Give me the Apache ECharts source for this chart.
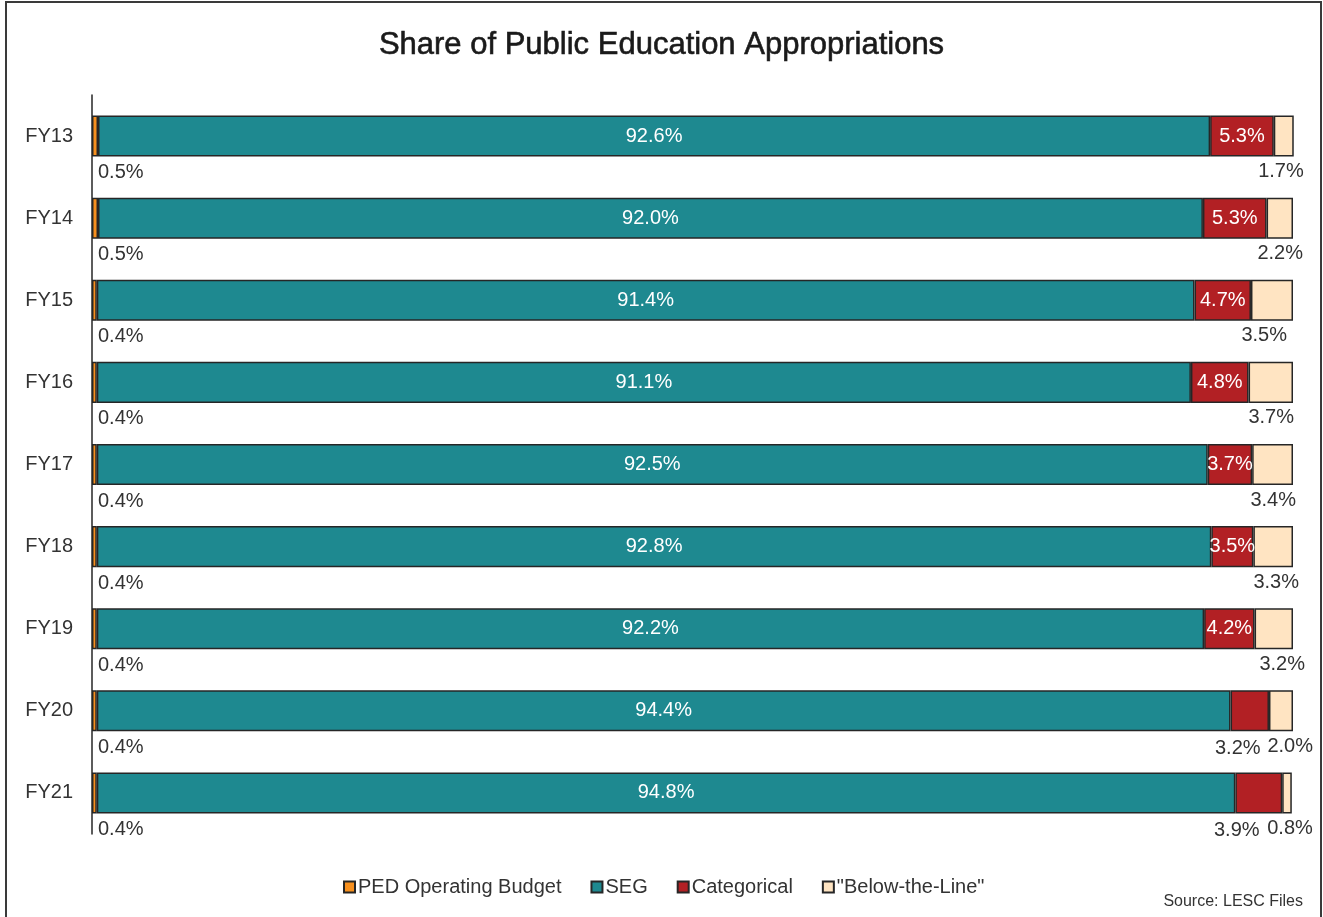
<!DOCTYPE html>
<html>
<head>
<meta charset="utf-8">
<script src="https://cdn.jsdelivr.net/npm/echarts@6/dist/echarts.min.js"></script>
<style>
  html, body { margin: 0; padding: 0; background: #fff; }
  #chart { width: 1323px; height: 917px; }
</style>
</head>
<body>
<div id="chart"></div>
<script>
// ---- data ----
const categories = ['FY13', 'FY14', 'FY15', 'FY16', 'FY17', 'FY18', 'FY19', 'FY20', 'FY21'];
const pedOperating = [0.5, 0.5, 0.4, 0.4, 0.4, 0.4, 0.4, 0.4, 0.4];
const seg = [92.6, 92.0, 91.4, 91.1, 92.5, 92.8, 92.2, 94.4, 94.8];
const categorical = [5.3, 5.3, 4.7, 4.8, 3.7, 3.5, 4.2, 3.2, 3.9];
const belowTheLine = [1.7, 2.2, 3.5, 3.7, 3.4, 3.3, 3.2, 2.0, 0.8];
const seriesNames = ['PED Operating Budget', 'SEG', 'Categorical', '"Below-the-Line"'];

// ---- layout (label nudges, not data) ----
const categoricalOutside = { 7: [-12, 7], 8: [-22, 7] };
const btlDx = [10, 10, -6, 1, 3, 6, 12, 20, 21];

const FONT = '"Liberation Sans", Arial, sans-serif';
const TXT = '#333333';
const BORDER = '#262626';
const colors = ['#F7901E', '#1E8990', '#B22024', '#FFE4C2'];

const fmt = v => v.toFixed(1) + '%';

function baseSeries(i, values) {
  return {
    name: seriesNames[i],
    type: 'bar',
    stack: 'total',
    barWidth: '50%',
    itemStyle: { color: colors[i], borderColor: BORDER, borderWidth: 1.5 },
    emphasis: { disabled: true },
    data: values.slice()
  };
}

const sPed = baseSeries(0, pedOperating);
sPed.label = {
  show: true, position: [6, '100%'], align: 'left', verticalAlign: 'top',
  offset: [0, 6], fontFamily: FONT, fontSize: 20, color: TXT,
  formatter: p => fmt(p.value)
};

const sSeg = baseSeries(1, seg);
sSeg.label = {
  show: true, position: 'inside', fontFamily: FONT, fontSize: 20, color: '#ffffff',
  formatter: p => fmt(p.value)
};

const sCat = baseSeries(2, categorical);
sCat.data = categorical.map((v, i) => {
  if (categoricalOutside[i]) {
    return {
      value: v,
      label: {
        show: true, position: ['50%', '100%'], align: 'center', verticalAlign: 'top',
        offset: categoricalOutside[i], color: TXT
      }
    };
  }
  return { value: v };
});
sCat.label = {
  show: true, position: 'inside', fontFamily: FONT, fontSize: 20, color: '#ffffff',
  formatter: p => fmt(p.value)
};

const sBtl = baseSeries(3, belowTheLine);
sBtl.data = belowTheLine.map((v, i) => ({
  value: v,
  label: { offset: [btlDx[i], 5] }
}));
sBtl.label = {
  show: true, position: ['100%', '100%'], align: 'right', verticalAlign: 'top',
  fontFamily: FONT, fontSize: 20, color: TXT,
  formatter: p => fmt(p.value)
};

const chart = echarts.init(document.getElementById('chart'), null, { renderer: 'canvas' });
chart.setOption({
  animation: false,
  backgroundColor: '#ffffff',
  title: {
    text: 'Share of Public Education Appropriations',
    left: 'center', top: 25,
    textStyle: {
      fontFamily: FONT, fontSize: 31, fontWeight: 'normal', color: '#1a1a1a',
      textBorderColor: '#1a1a1a', textBorderWidth: 0.6
    }
  },
  grid: { left: 92, right: 30, top: 95, bottom: 83, containLabel: false },
  xAxis: { type: 'value', min: 0, max: 100, show: false },
  yAxis: {
    type: 'category', data: categories, inverse: true,
    axisLine: { show: true, lineStyle: { color: '#262626', width: 1.5 } },
    axisTick: { show: false },
    axisLabel: { margin: 19, fontFamily: FONT, fontSize: 20, color: TXT }
  },
  legend: {
    left: 338, top: 872,
    icon: 'rect', itemWidth: 11, itemHeight: 11, itemGap: 29,
    textStyle: { fontFamily: FONT, fontSize: 20, color: TXT, padding: [0, 0, 0, -2] },
    data: seriesNames
  },
  graphic: [
    {
      type: 'rect', silent: true,
      shape: { x: 6, y: 2, width: 1315, height: 960 },
      style: { fill: 'none', stroke: '#3a3a3a', lineWidth: 2 }
    },
    {
      type: 'text', right: 20, top: 894, silent: true,
      style: { text: 'Source: LESC Files', fontFamily: FONT, fontSize: 16, fill: TXT }
    }
  ],
  series: [sPed, sSeg, sCat, sBtl]
});
</script>
</body>
</html>
